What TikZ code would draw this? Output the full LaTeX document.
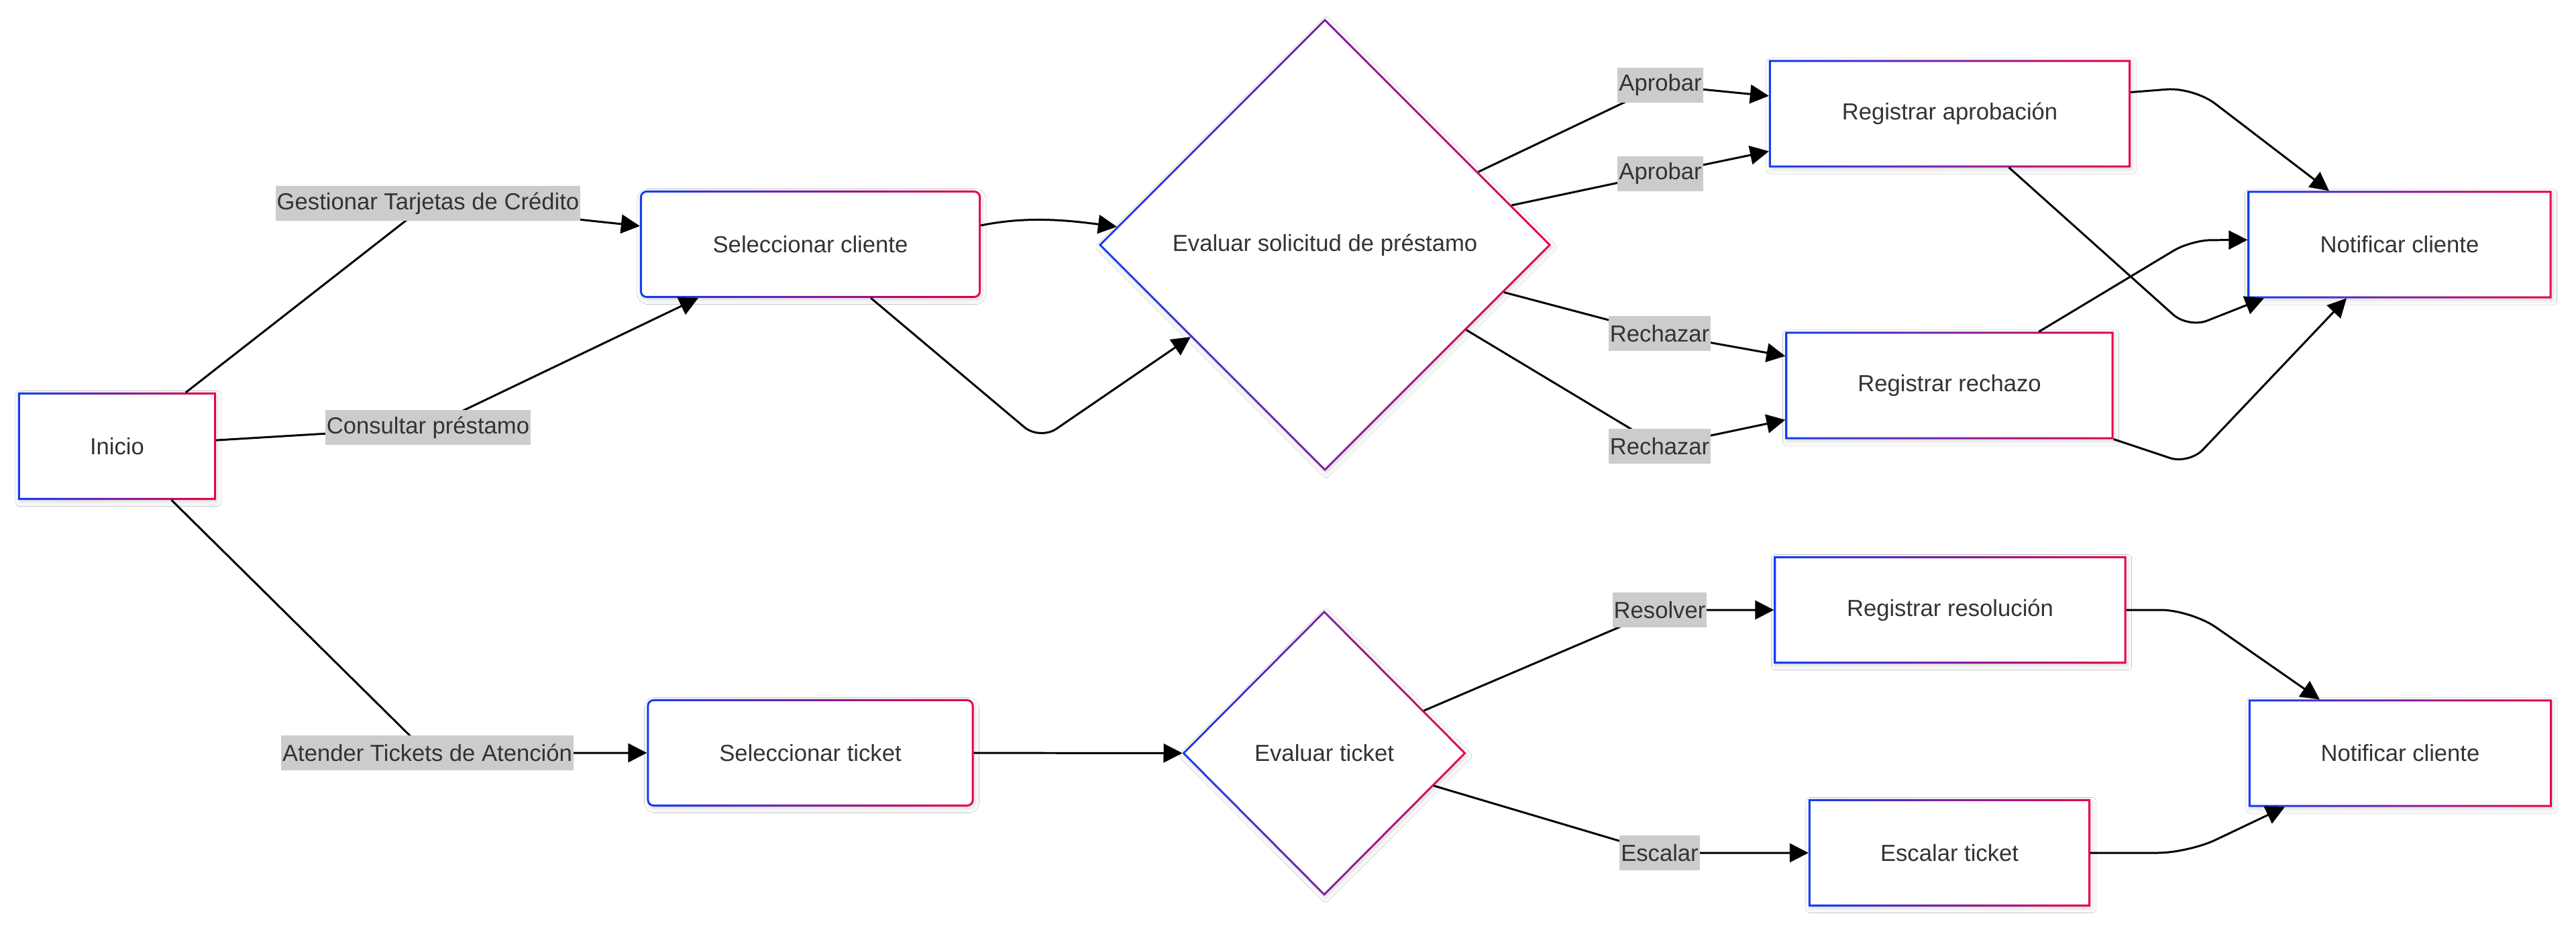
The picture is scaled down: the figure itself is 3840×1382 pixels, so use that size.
\documentclass[tikz,border=0pt]{standalone}
\usepackage{fontspec}
\setmainfont{Liberation Sans}
\usetikzlibrary{arrows.meta,shapes.geometric,shadows.blur}
\definecolor{gblue}{RGB}{16,60,245}
\definecolor{gred}{RGB}{232,0,72}
\definecolor{txt}{HTML}{333333}
\definecolor{lblbg}{HTML}{CCCCCC}
\tikzset{
  box/.style={rectangle, fill=white, draw=none, inner sep=0pt, outer sep=0pt,
    minimum height=1.6cm, font=\fontsize{9.85}{12}\selectfont, text=txt,
    blur shadow={shadow xshift=0.02cm, shadow yshift=-0.035cm, shadow opacity=14, shadow blur radius=0.06cm}},
  rbox/.style={box, rounded corners=0.1cm},
  dia/.style={box, diamond, aspect=1},
  lbl/.style={rectangle, fill=lblbg, text=txt, font=\fontsize{9.85}{12}\selectfont,
    inner xsep=0.6pt, inner ysep=0pt, minimum height=0.52cm},
  edge/.style={draw=black, line width=0.85pt, -{Triangle[length=0.28cm,width=0.28cm]}, rounded corners=0.3cm},
  ring/.style={left color=gblue, right color=gred, even odd rule}
}
\newcommand\rectring[1]{\shade[ring] (#1.south west) rectangle (#1.north east)
  ([shift={(0.03cm,0.03cm)}]#1.south west) rectangle ([shift={(-0.03cm,-0.03cm)}]#1.north east);}
\newcommand\roundring[1]{\shade[ring, rounded corners=0.1cm] (#1.south west) rectangle (#1.north east)
  [rounded corners=0.07cm] ([shift={(0.03cm,0.03cm)}]#1.south west) rectangle ([shift={(-0.03cm,-0.03cm)}]#1.north east);}
\newcommand\diaring[1]{\shade[ring] (#1.north) -- (#1.east) -- (#1.south) -- (#1.west) -- cycle
  ([yshift=-0.04cm]#1.north) -- ([xshift=-0.04cm]#1.east) -- ([yshift=0.04cm]#1.south) -- ([xshift=0.04cm]#1.west) -- cycle;}
\begin{document}
\begin{tikzpicture}[x=0.01cm, y=-0.01cm]
\fill[white] (0,0) rectangle (3840,1382);
\useasboundingbox (0,0) rectangle (3840,1382);

% nodes
\node[box, minimum width=2.95cm] (ini) at (174.5,665) {Inicio};
\node[rbox, minimum width=5.08cm] (selC) at (1208,364) {Seleccionar cliente};
\node[dia, minimum width=6.74cm, minimum height=6.74cm] (evalP) at (1975,365) {Evaluar solicitud de préstamo};
\node[box, minimum width=5.39cm] (RA) at (2906.5,169.5) {Registrar aprobación};
\node[box, minimum width=4.89cm] (RR) at (2906,574.5) {Registrar rechazo};
\node[box, minimum width=4.53cm] (N1) at (3577,364.5) {Notificar cliente};
\node[rbox, minimum width=4.87cm] (selT) at (1208,1122) {Seleccionar ticket};
\node[dia, minimum width=4.23cm, minimum height=4.25cm] (evalT) at (1974,1122.5) {Evaluar ticket};
\node[box, minimum width=5.25cm] (RRes) at (2907,909) {Registrar resolución};
\node[box, minimum width=4.2cm] (ET) at (2906,1271) {Escalar ticket};
\node[box, minimum width=4.52cm] (N2) at (3578,1122.5) {Notificar cliente};

% gradient borders
\rectring{ini}
\roundring{selC}
\diaring{evalP}
\rectring{RA}
\rectring{RR}
\rectring{N1}
\roundring{selT}
\diaring{evalT}
\rectring{RRes}
\rectring{ET}
\rectring{N2}

% label positions
\coordinate (lG) at (638,303);
\coordinate (lC) at (638,637);
\coordinate (lT) at (637,1122);
\coordinate (lA1) at (2475,127);
\coordinate (lA2) at (2475,259);
\coordinate (lR1) at (2474,497);
\coordinate (lR2) at (2474,665);
\coordinate (lRes) at (2474,909);
\coordinate (lEsc) at (2474,1271);

% edges
\draw[edge] (ini) -- (lG) -- (selC);
\draw[edge] (ini) -- (lC) -- (selC);
\draw[edge] (ini) -- (lT) -- (selT);
\draw[edge] ([yshift=0.28cm]selC.east) .. controls (1530,322) and (1590,328) .. (evalP.175);
\draw[edge] ([xshift=0.9cm]selC.south) -- (1550,656) -- (evalP);
\draw[edge] (evalP) -- (lA1) -- (RA);
\draw[edge] (evalP) -- (lA2) -- (RA);
\draw[edge] (evalP) -- (lR1) -- (RR);
\draw[edge] (evalP) -- (lR2) -- (RR);
\draw[edge] (selT) -- (evalT);
\draw[edge] (evalT) -- (lRes) -- (RRes);
\draw[edge] (evalT) -- (lEsc) -- (ET);
\draw[edge, rounded corners=0.4cm] ([yshift=0.32cm]RA.east) -- (3270,130) -- ([xshift=-1.05cm]N1.north);
\draw[edge] ([xshift=0.88cm]RA.south) -- (3262,489) -- ([xshift=-2.02cm]N1.south);
\draw[edge] ([xshift=1.33cm]RR.north) -- (3266,358) -- ([yshift=0.07cm]N1.west);
\draw[edge] (RR.south east) -- (3263,692) -- ([xshift=-0.79cm]N1.south);
\draw[edge, rounded corners=0.45cm] (RRes.east) -- (3266,909) -- ([xshift=-1.2cm]N2.north);
\draw[edge, rounded corners=0.45cm] (ET.east) -- (3262,1271) -- ([xshift=-1.72cm]N2.south);

% labels
\node[lbl] (tG) at (lG) {Gestionar Tarjetas de Crédito};
\node[lbl] (tC) at (lC) {Consultar préstamo};
\node[lbl] (tT) at (lT) {Atender Tickets de Atención};
\node[lbl] (tA1) at (lA1) {Aprobar};
\node[lbl] (tA2) at (lA2) {Aprobar};
\node[lbl] (tR1) at (lR1) {Rechazar};
\node[lbl] (tR2) at (lR2) {Rechazar};
\node[lbl] (tRes) at (lRes) {Resolver};
\node[lbl] (tEsc) at (lEsc) {Escalar};
\end{tikzpicture}
\end{document}
